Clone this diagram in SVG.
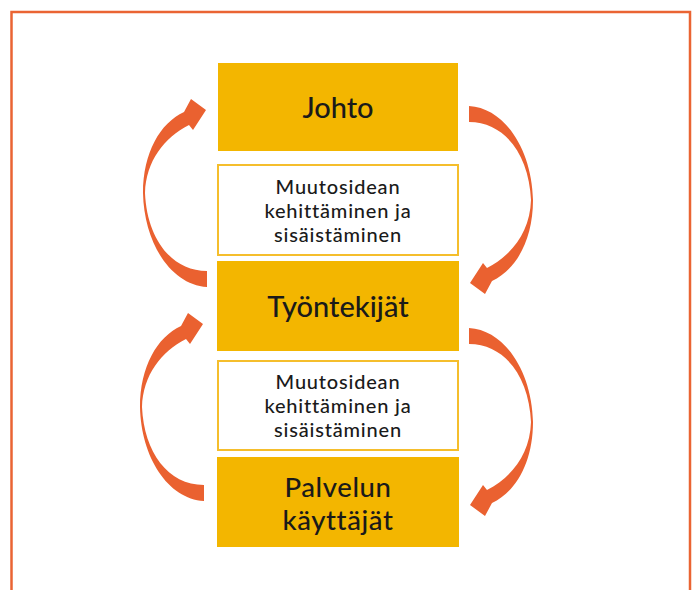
<svg xmlns="http://www.w3.org/2000/svg" xmlns:xlink="http://www.w3.org/1999/xlink" width="693" height="590" viewBox="0 0 693 590">
<style>
.frame{fill:none;stroke:#EA6433;stroke-width:2.5}
.main{fill:#F3B600}
.sub{fill:#FFFFFF;stroke:#F5BE2C;stroke-width:2}
.arrow{fill:#EA6130}
.big{font-family:Lato,"Open Sans",sans-serif;font-size:29px;font-weight:500;fill:#1A1A1A;text-anchor:middle}
.two{font-size:27.5px;letter-spacing:0.6px}
.small{font-family:Lato,"Open Sans",sans-serif;font-size:20px;font-weight:500;letter-spacing:0.8px;fill:#1A1A1A;text-anchor:middle}
</style>
<defs>
<path id="arc" d="M469,106 C505,108 532,150 533,200 C533,240 516,270 492,281 L485,294 L470,283 L483,263 L487,268 C512,255 530,232 531,200 C529,155 505,122 469,122 Z"/>
</defs>
<rect width="693" height="590" fill="#FFFFFF"/>
<rect class="frame" x="11.5" y="12" width="678.5" height="600"/>
<g id="connectors">
<use xlink:href="#arc" class="arrow"/>
<use xlink:href="#arc" class="arrow" transform="translate(0,222)"/>
<use xlink:href="#arc" class="arrow" transform="rotate(180,338,196.5)"/>
<use xlink:href="#arc" class="arrow" transform="translate(-3,214) rotate(180,338,196.5)"/>
</g>
<g id="johto">
<rect class="main" x="218" y="63" width="240" height="88"/>
<text class="big" x="338" y="118">Johto</text>
</g>
<g id="idea1">
<rect class="sub" x="218" y="165" width="240" height="90"/>
<text class="small" x="338" y="194">Muutosidean</text>
<text class="small" x="338" y="218">kehittäminen ja</text>
<text class="small" x="338" y="242">sisäistäminen</text>
</g>
<g id="tyontekijat">
<rect class="main" x="217" y="261" width="242" height="90"/>
<text class="big" x="338" y="317">Työntekijät</text>
</g>
<g id="idea2">
<rect class="sub" x="218" y="361" width="240" height="89"/>
<text class="small" x="338" y="389">Muutosidean</text>
<text class="small" x="338" y="413">kehittäminen ja</text>
<text class="small" x="338" y="437">sisäistäminen</text>
</g>
<g id="kayttajat">
<rect class="main" x="217" y="457" width="242" height="90"/>
<text class="big two" x="338" y="497">Palvelun</text>
<text class="big two" x="338" y="530">käyttäjät</text>
</g>
</svg>
